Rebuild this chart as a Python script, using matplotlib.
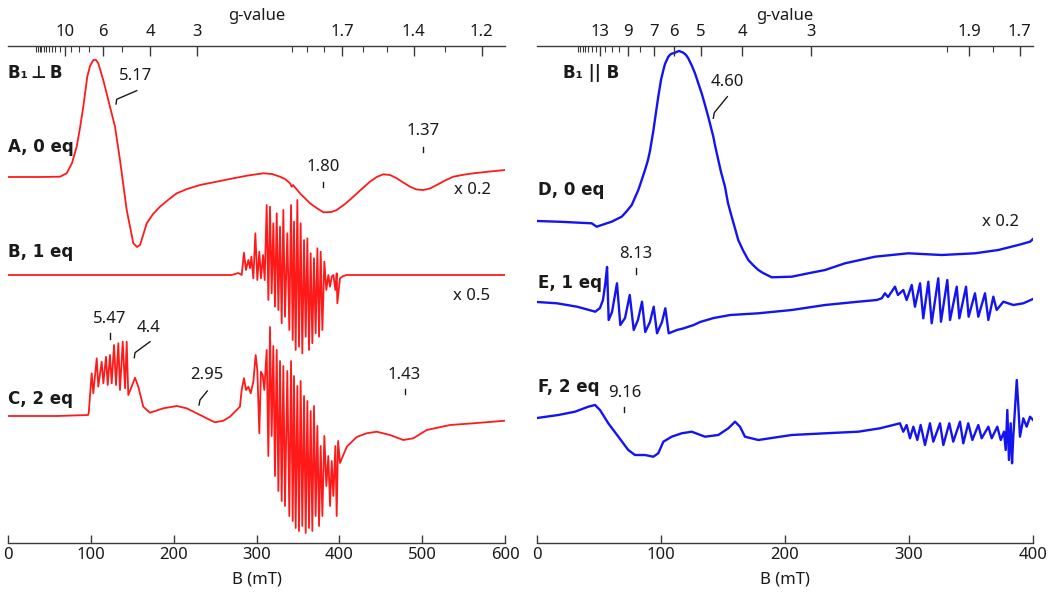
import matplotlib
matplotlib.use('Agg')
import matplotlib.pyplot as plt
from matplotlib.lines import Line2D
import numpy as np

plt.rcParams['font.family'] = ['Noto Sans', 'DejaVu Sans']

# ---------------- data (field in mT, signal in arbitrary units) ----------------
A_field = [0, 38.6, 62.8, 70.9, 77.3, 82.9, 86.9, 90.9, 95.7, 99, 103, 106.2, 109, 115, 123.1,
           129.2, 135.2, 143.3, 151.3, 155.7, 159.4, 167.5, 175.1, 183.5, 193.2, 203.7, 216.1,
           231.8, 249.9, 272, 289.8, 308.2, 318.7, 328.4, 334.4, 340.5, 342.5, 344.1, 352.5,
           364.6, 372.6, 380.7, 390.4, 396.8, 406.9, 416.9, 427, 437, 445.1, 453.1, 461.2,
           469.3, 477.2, 485.3, 493.3, 501.4, 509.4, 517.6, 527.6, 537.6, 551.7, 561.8, 582, 600]
A_signal = [0, 0, 0.3, 3.7, 14, 30.3, 49, 70.3, 100.3, 111, 117, 117, 113.7, 97, 70.3,
            50.3, 17, -33, -66.3, -70, -68, -46.3, -37, -29.7, -23, -16.3, -12,
            -8, -5, -1.3, 1.5, 3.7, 3, 0.3, -2, -6.3, -9.7, -8, -16.3,
            -26.3, -31, -35.3, -35, -33, -27, -19.7, -12, -4.7, 0, 2.7, 2,
            -1.3, -5.5, -9.7, -12.5, -13, -11.5, -8, -3.5, 0.3, 2.5, 3.7, 5.5, 7]

B_field = [0, 270, 278, 282.1, 284.9, 287.3, 290.2, 292.2, 293.8, 296.2, 298.6, 301.0, 303.4,
           305.4, 307.9, 309.9, 312.3, 314.3, 316.3, 318.3, 320.3, 322.3, 324.4, 326.4, 328.4,
           330.4, 332.4, 334.4, 337.2, 339.6, 341.7, 343.7, 345.3, 347.3, 349.3, 351.3, 353.3,
           355.3, 357.4, 359.4, 361.4, 363.4, 365.4, 367.4, 369.4, 371.4, 373.5, 375.5, 377.5,
           379.5, 381.9, 384.3, 386.7, 388.8, 390.8, 392.8, 395.2, 396.8, 397.6, 400.8, 404.8,
           408.9, 500, 600]
B_signal = [0, 0, 2, 0, 22.3, 5, 15, 6.7, 18.3, -3.3, 41.7, -5, 23.3,
            -3.3, 20, -5, 70, -25, 68.3, -18.3, 51.7, -31.7, 61.7, -35, 48.3,
            -48.3, 65, -41.7, 41.7, -55, 70, -65, 53.3, -75, 75, -71.7, 51.7,
            -78.3, 35, -61.7, 36.7, -75, 21.7, -68.3, 16.7, -58.3, 26.7, -61.7, 23.3,
            -55, 13.3, -15, 0, -11.7, -1.7, 0, -15, 1.7, -28.3, -3.3, -1,
            0, 0, 0]

C_field = [0, 60, 96.6, 97.5, 101.0, 103.0, 107.1, 109.0, 113.1, 115.1, 118.3, 120.4, 123.1,
           125.2, 128.0, 130.4, 133.2, 135.2, 138.5, 141.3, 143.3, 145.2, 149.3, 153.3, 157.3,
           163.3, 171.4, 187.5, 203.7, 215.7, 227.8, 243.9, 249.9, 260, 268, 280, 282.1, 284.9,
           287.3, 290.2, 293, 296.2, 299, 301, 303.4, 305.4, 307.5, 309.4, 312.3, 314.3, 316.3,
           318.3, 320.3, 322.3, 324.4, 326.4, 328.4, 330.4, 332.4, 334.4, 337.2, 339.6, 341.7,
           343.7, 345.3, 347.3, 349.3, 351.3, 353.3, 355.3, 357.4, 359.4, 361.4, 363.4, 365.4,
           367.4, 369.4, 371.4, 373.5, 375.5, 377.5, 379.5, 381.9, 384.3, 386.7, 388.8, 390.8,
           392.8, 395.2, 396.8, 398.5, 400.8, 409, 421, 433, 445.1, 461.2, 477.2, 489.3, 505.5,
           533.6, 561.8, 600]
C_signal = [0, 0, 1, 3.3, 42.7, 22.7, 57.7, 29.3, 54.3, 32.7, 59.3, 31, 61,
            32.7, 71, 31, 72.7, 26, 74.3, 27.7, 74.3, 21, 29.3, 38.3, 29.3,
            9.3, 3.3, 7.7, 10, 7.7, 2.7, -4, -6.3, -4.7, -0.7, 9.3, 26, 37.7,
            26, 29.3, 22.7, 34.3, 61, 46, -17.3, 44.3, 41, 26, 66, -40, 89,
            -20, 70, -60, 66, -75, 55, -85, 50, -90, 45, -100, 55,
            -105, 40, -112, 30, -115, 35, -110, 20, -117, 15, -112, 5,
            -115, 10, -100, -10, -110, -30, -100, -20, -70, -40, -90, -45,
            -80, -30, -100, -25, -47, -30.7, -21, -17.3, -15.7, -19, -24, -22.3, -14,
            -9, -7.3, -4.7]

D_field = [0, 17.2, 44.1, 48.1, 60.2, 68.3, 71.8, 76.4, 81.7, 83.9, 87.1, 89.5, 91.1, 93.8,
           96, 97.8, 100, 101.9, 103.2, 105.9, 108, 111.3, 114.5, 118, 120.2, 122, 125, 127.4,
           132.8, 135.5, 138.1, 142.2, 143.5, 146.2, 148.4, 151.6, 154, 157, 159.6, 162.3, 166,
           170.4, 174.2, 178.5, 182.3, 189.3, 205.4, 218.8, 232.3, 248.4, 272.6, 299.4, 326.4,
           353.2, 372, 388.1, 397.6, 400]
D_signal = [0, -0.7, -2.3, -5.7, -0.7, 4.3, 9, 16, 31, 39, 51, 61, 70, 90,
            109, 124.3, 141, 151, 157, 164.3, 167, 168.3, 170, 168.3, 166, 162.7, 155, 147.7,
            127.7, 116, 104.3, 84.3, 76, 61, 49, 34.3, 18, 4.3, -7, -19, -29,
            -39, -44, -49, -52, -56.3, -55.7, -52.3, -49, -42.3, -35.7, -32.3, -34,
            -32.3, -29, -24, -20.7, -18]

E_field = [0, 16.1, 32.3, 47, 50.8, 53.2, 55.1, 56.5, 57.8, 60.5, 64.5, 67.2, 71, 74.8, 78,
           81.4, 84.7, 87.3, 91.1, 94.1, 96.8, 100.8, 103.5, 106.2, 112.9, 118.3, 126.4, 131.5,
           142.5, 155.9, 178.5, 205.4, 232.3, 259.1, 274, 278, 280.6, 283.1, 288.7, 291.1,
           295.4, 298.1, 302.2, 304.8, 308.9, 311.5, 315.6, 318.3, 323.6, 325.8, 330.9, 333.1,
           338.5, 340.6, 346, 348.1, 353.2, 355.9, 361.3, 364, 368, 370.7, 376.1, 384.1,
           392.2, 400]
E_signal = [1, -0.3, -3.7, -8.7, -5, 3, 19.7, 36, -17, -9, 19.7, -22, -15, 8, -27,
            -17, 1.3, -29, -19, -3.7, -30.3, -19, -5.3, -30.3, -27, -25.3, -22, -19,
            -15, -12, -10.3, -7, -2, 1.3, 3, 4.7, 9.7, 6, 16.3, 8,
            13, 3, 18, -3.7, 19.7, -15.3, 21.3, -20.3, 24.7, -18.7, 23, -17,
            16.3, -15.3, 16.3, -13.7, 9.7, -13.7, 9.7, -17, 6.3, -7, 1.3, -2,
            -0.3, 4]

F_field = [0, 17.2, 30.6, 41.4, 46.8, 50.8, 57.5, 65.6, 73.6, 79, 87.1, 93.8, 97.8, 101.9,
           108.6, 116.7, 124.8, 135.5, 146.2, 154.3, 159.7, 163.7, 167.7, 178.5, 205.4, 232.3,
           259.1, 276.6, 287.3, 292.7, 295.4, 298.1, 300.8, 303.5, 306.7, 309.4, 312.9, 316.9,
           319.6, 325, 327.7, 332.5, 335.7, 341.1, 343.8, 347.8, 351.1, 355.9, 358.6, 364,
           366.7, 371.2, 374, 376.6, 378, 379.3, 380.6, 382, 383.1, 384.1, 386.9, 388.2,
           389.5, 392.2, 394.9, 397.6, 400]
F_signal = [0, 3, 6.3, 11.3, 13, 8, -5.3, -18.7, -32, -37, -37, -38.7, -35.3, -23.7,
            -18.7, -15.3, -13.7, -18.7, -17, -10.3, -3.7, -8.7, -18.7, -22, -17, -15.3,
            -13.7, -10.3, -7, -5.3, -13.7, -7, -20.3, -8.7, -22, -7, -27, -5.3,
            -23.7, -5.3, -27, -5.3, -23.7, -3.7, -25.3, -5.3, -22, -7, -20.3, -8.7,
            -20.3, -8.7, -22, -13.7, -32, 8, -42, -5.3, -45.3, -18.7, 38, 11.3,
            -18.7, -0.3, -8.7, 1.3, -2]

# g-value axis
g_major_left = [10, 6, 4, 3, 1.7, 1.4, 1.2]
g_minor_left = [20, 19, 18, 17, 16, 15, 14, 13, 12, 11, 9, 8, 7, 5, 2, 1.9, 1.8, 1.6, 1.5, 1.3]
g_major_right = [13, 9, 7, 6, 5, 4, 3, 1.9, 1.7]
g_minor_right = [20, 19, 18, 17, 16, 15, 14, 12, 11, 10, 8, 2, 1.8]
hnu_left = 686.0   # g*B constant (mT)
hnu_right = 662.0

# ---------------- layout ----------------
W, H = 1050, 599
fig = plt.figure(figsize=(W / 100, H / 100), dpi=100)


def fx(x):
    return x / W


def fy(y):
    return 1 - y / H


RED = '#ff1a1a'
BLUE = '#1414f0'
TXT = '#1a1a1a'
AX = '#3a3a3a'

axL = fig.add_axes([fx(8), fy(543), 497 / W, 497 / H])
axR = fig.add_axes([fx(537), fy(543), 496 / W, 497 / H])

offs_left = {'A': 366, 'B': 268, 'C': 127}
offs_right = {'D': 322, 'E': 240, 'F': 125}

axL.plot(A_field, np.array(A_signal) + offs_left['A'], color=RED, lw=1.3)
axL.plot(B_field, np.array(B_signal) + offs_left['B'], color=RED, lw=1.3)
axL.plot(C_field, np.array(C_signal) + offs_left['C'], color=RED, lw=1.3)
axR.plot(D_field, np.array(D_signal) + offs_right['D'], color=BLUE, lw=1.7)
axR.plot(E_field, np.array(E_signal) + offs_right['E'], color=BLUE, lw=1.7)
axR.plot(F_field, np.array(F_signal) + offs_right['F'], color=BLUE, lw=1.7)


def style(ax, xmax, step, gmaj, gmin, hnu):
    ax.set_xlim(0, xmax)
    ax.set_ylim(0, 497)
    for s in ['left', 'right', 'top']:
        ax.spines[s].set_visible(False)
    ax.spines['bottom'].set_color(AX)
    ax.spines['bottom'].set_linewidth(1.0)
    ax.set_yticks([])
    ax.set_xticks(np.arange(0, xmax + 1, step))
    ax.tick_params(axis='x', direction='in', length=6, width=1, colors=AX,
                   labelcolor=TXT, labelsize=12, pad=3)
    ax.set_xlabel('B (mT)', fontsize=12, color=TXT, labelpad=6)
    ax.patch.set_alpha(0)

    t = ax.twiny()
    t.set_xlim(0, xmax)
    t.set_ylim(0, 497)
    for s in ['left', 'right', 'bottom']:
        t.spines[s].set_visible(False)
    t.spines['top'].set_color(AX)
    t.spines['top'].set_linewidth(1.0)
    t.set_xticks([hnu / g for g in gmaj])
    t.set_xticklabels([('%g' % g) for g in gmaj])
    t.set_xticks([hnu / g for g in gmin], minor=True)
    t.tick_params(axis='x', which='major', direction='in', length=7, width=1,
                  colors=AX, labelcolor=TXT, labelsize=12, pad=4)
    t.tick_params(axis='x', which='minor', direction='in', length=4, width=0.8, colors=AX)
    t.set_xlabel('g-value', fontsize=12, color=TXT, labelpad=3)
    t.set_yticks([])
    return t


style(axL, 600, 100, g_major_left, g_minor_left, hnu_left)
style(axR, 400, 100, g_major_right, g_minor_right, hnu_right)

# ---------------- labels ----------------
bold = dict(fontsize=12, fontweight='bold', color=TXT, va='center', ha='left',
            family=['DejaVu Sans'])
norm = dict(fontsize=12, color=TXT, va='center', ha='center')

fig.text(fx(8), fy(73), 'B\u2081\u2009\u22a5\u2009B', **bold)
fig.text(fx(8), fy(147), 'A, 0 eq', **bold)
fig.text(fx(8), fy(252), 'B, 1 eq', **bold)
fig.text(fx(8), fy(399), 'C, 2 eq', **bold)
fig.text(fx(563), fy(73), 'B\u2081 || B', **bold)
fig.text(fx(538), fy(190), 'D, 0 eq', **bold)
fig.text(fx(538), fy(283), 'E, 1 eq', **bold)
fig.text(fx(538), fy(387), 'F, 2 eq', **bold)

fig.text(fx(136), fy(76), '5.17', **norm)
fig.text(fx(323.5), fy(167), '1.80', **norm)
fig.text(fx(423), fy(131), '1.37', **norm)
fig.text(fx(472), fy(190), 'x 0.2', **norm)
fig.text(fx(472), fy(296), 'x 0.5', **norm)
fig.text(fx(110), fy(319), '5.47', **norm)
fig.text(fx(149), fy(328), '4.4', **norm)
fig.text(fx(207), fy(375), '2.95', **norm)
fig.text(fx(404.5), fy(375), '1.43', **norm)
fig.text(fx(727.5), fy(81.5), '4.60', **norm)
fig.text(fx(1001), fy(221.5), 'x 0.2', **norm)
fig.text(fx(635.5), fy(254), '8.13', **norm)
fig.text(fx(625), fy(393), '9.16', **norm)

leaders = [
    [(116, 104), (116.7, 99.3), (136.7, 90.7)],
    [(322.7, 181.7), (322.7, 186.7)],
    [(423.3, 146.5), (423.3, 151.7)],
    [(110, 332.7), (110, 339.3)],
    [(134.3, 357.7), (135, 352.7), (150, 341.7)],
    [(199, 405), (200, 400), (207.3, 391)],
    [(405, 388.5), (405, 394.3)],
    [(713.3, 118.3), (714.3, 112.7), (727.3, 96.7)],
    [(636, 267.7), (636, 274.3)],
    [(624.3, 406.7), (624.3, 411.7)],
]
for pts in leaders:
    xs = [fx(p[0]) for p in pts]
    ys = [fy(p[1]) for p in pts]
    fig.add_artist(Line2D(xs, ys, transform=fig.transFigure, color=TXT, lw=1.0))

fig.savefig('out.png', dpi=100)
